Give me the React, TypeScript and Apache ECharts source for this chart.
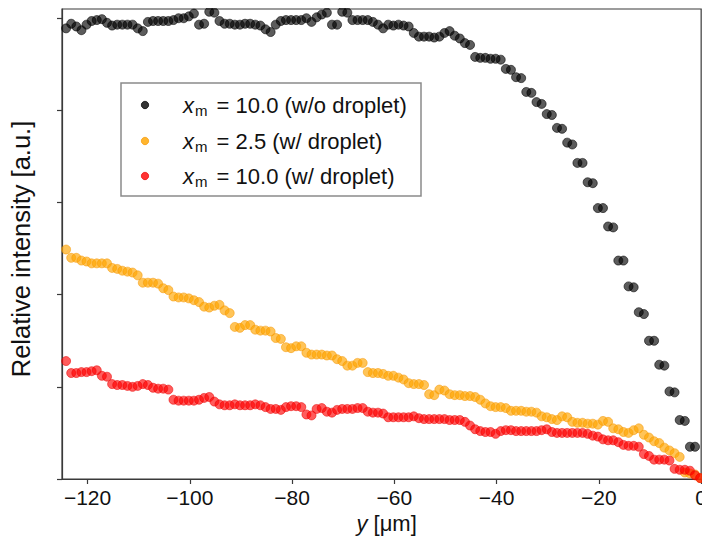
import React, { useEffect, useRef } from "react";
import * as echarts from "echarts";

// Sampling positions (μm): uniform grid, leftmost point at -124.2, step 1 μm
const X_START = -124.2;
const X_STEP = 1;

// x_m = 10.0 (w/o droplet) — 124 points from y = -124.2 to -1.2
const blackValues = [
  4.89, 4.94, 4.91, 4.87, 4.93, 4.97, 4.98, 4.99, 4.95, 4.92,
  4.93, 4.93, 4.93, 4.93, 4.89, 4.86, 4.96, 4.97, 4.97, 4.97,
  4.97, 4.98, 5.0, 5.0, 5.02, 5.05, 4.93, 4.94, 5.07, 5.06,
  4.97, 4.94, 4.94, 4.93, 4.93, 4.94, 4.94, 4.93, 4.92, 4.88,
  4.85, 4.93, 4.97, 4.98, 4.98, 4.98, 4.98, 5.0, 4.96, 5.01,
  5.04, 5.06, 4.93, 4.93, 5.07, 5.06, 4.98, 4.98, 4.98, 4.98,
  4.96, 4.93, 4.89, 4.93, 4.92, 4.93, 4.92, 4.91, 4.84, 4.8,
  4.8, 4.8, 4.79, 4.8, 4.84, 4.86, 4.81, 4.78, 4.73, 4.71,
  4.58, 4.57, 4.57, 4.56, 4.56, 4.55, 4.45, 4.44, 4.36, 4.35,
  4.2, 4.19, 4.09, 4.07, 3.96, 3.95, 3.81, 3.8, 3.65, 3.63,
  3.43, 3.43, 3.22, 3.21, 2.94, 2.94, 2.74, 2.73, 2.37, 2.37,
  2.09, 2.08, 1.81, 1.79, 1.5, 1.5, 1.24, 1.23, 0.95, 0.94,
  0.64, 0.63, 0.35, 0.35,
];

// x_m = 2.5 (w/ droplet) — 125 points from y = -124.2 to -0.2
const orangeValues = [
  2.49, 2.4, 2.4, 2.37, 2.36, 2.34, 2.34, 2.34, 2.34, 2.29,
  2.28, 2.26, 2.25, 2.24, 2.21, 2.13, 2.13, 2.13, 2.12, 2.07,
  2.05, 1.98, 1.97, 1.97, 1.96, 1.94, 1.92, 1.87, 1.86, 1.88,
  1.89, 1.83, 1.8, 1.65, 1.64, 1.67, 1.67, 1.62, 1.61, 1.61,
  1.6, 1.53, 1.52, 1.43, 1.42, 1.44, 1.44, 1.37, 1.35, 1.35,
  1.35, 1.34, 1.34, 1.3, 1.28, 1.23, 1.23, 1.26, 1.26, 1.16,
  1.15, 1.15, 1.14, 1.12, 1.12, 1.1, 1.08, 1.04, 1.03, 1.03,
  1.02, 0.92, 0.91, 0.97, 0.96, 0.92, 0.91, 0.91, 0.9, 0.9,
  0.89, 0.86, 0.82, 0.79, 0.78, 0.78, 0.77, 0.74, 0.74, 0.74,
  0.73, 0.73, 0.72, 0.68, 0.67, 0.65, 0.64, 0.68, 0.67, 0.62,
  0.61, 0.61, 0.6, 0.6, 0.59, 0.63, 0.62, 0.55, 0.54, 0.51,
  0.5, 0.53, 0.55, 0.48, 0.45, 0.41, 0.39, 0.34, 0.31, 0.28,
  0.24, 0.07, 0.06, 0.05, 0.01,
];

// x_m = 10.0 (w/ droplet) — 125 points from y = -124.2 to -0.2
const redValues = [
  1.28, 1.15, 1.15, 1.16, 1.16, 1.17, 1.18, 1.12, 1.11, 1.03,
  1.02, 1.02, 1.01, 1.0, 1.01, 1.03, 1.02, 0.99, 0.98, 0.98,
  0.97, 0.86, 0.85, 0.85, 0.85, 0.85, 0.86, 0.88, 0.89, 0.84,
  0.81, 0.8, 0.8, 0.81, 0.8, 0.8, 0.8, 0.81, 0.8, 0.78,
  0.76, 0.76, 0.75, 0.78, 0.79, 0.79, 0.78, 0.7, 0.69, 0.76,
  0.77, 0.73, 0.72, 0.75, 0.76, 0.76, 0.76, 0.77, 0.77, 0.73,
  0.72, 0.72, 0.71, 0.67, 0.67, 0.67, 0.67, 0.67, 0.68, 0.66,
  0.65, 0.65, 0.65, 0.65, 0.65, 0.64, 0.64, 0.64, 0.62, 0.58,
  0.54, 0.52, 0.51, 0.51, 0.49, 0.52, 0.53, 0.53, 0.52, 0.52,
  0.52, 0.52, 0.52, 0.53, 0.54, 0.51, 0.5, 0.5, 0.5, 0.5,
  0.5, 0.5, 0.49, 0.47, 0.46, 0.43, 0.42, 0.42, 0.4, 0.37,
  0.36, 0.36, 0.35, 0.27, 0.25, 0.21, 0.21, 0.21, 0.2, 0.11,
  0.1, 0.1, 0.09, 0.04, 0.01,
];

const xTickValues = [-120, -100, -80, -60, -40, -20, 0];
const yTickValues = [0, 1, 2, 3, 4, 5];

const seriesNames = [
  "x_m = 10.0 (w/o droplet)",
  "x_m = 2.5 (w/ droplet)",
  "x_m = 10.0 (w/ droplet)",
];
const legendTexts = [
  "{i|x}{s|m} = 10.0 (w/o droplet)",
  "{i|x}{s|m} = 2.5 (w/ droplet)",
  "{i|x}{s|m} = 10.0 (w/ droplet)",
];
const seriesColors = ["rgba(0,0,0,0.8)", "rgba(255,165,0,0.82)", "rgba(255,0,0,0.8)"];
const seriesBorders = ["rgba(0,0,0,0.9)", "rgba(245,150,0,0.85)", "rgba(235,0,0,0.85)"];

const FONT = "'Liberation Sans', Arial, Helvetica, sans-serif";

function toPairs(values: number[]) {
  return values.map((v, i) => [X_START + i * X_STEP, v]);
}

export default function App() {
  const ref = useRef<HTMLDivElement>(null);
  useEffect(() => {
    if (!ref.current) return;
    const chart = echarts.init(ref.current, undefined, { renderer: "svg" });
    const allValues = [blackValues, orangeValues, redValues];
    const legendRowsY = [105, 141, 176];
    chart.setOption({
      animation: false,
      backgroundColor: "#ffffff",
      grid: {
        left: 62,
        right: 4,
        top: 9,
        bottom: 65,
        show: true,
        borderColor: "#3a3a3a",
        borderWidth: 1.2,
        backgroundColor: "transparent",
      },
      xAxis: {
        type: "value",
        min: -125,
        max: 0,
        name: "{i|y} [μm]",
        nameLocation: "middle",
        nameGap: 33,
        nameTextStyle: {
          fontFamily: FONT,
          fontSize: 22,
          color: "#111",
          padding: [0, 0, 0, 10],
          rich: { i: { fontStyle: "italic", fontFamily: FONT, fontSize: 22, color: "#111" } },
        },
        axisLine: { show: true, onZero: false, lineStyle: { color: "#3a3a3a", width: 1.2 } },
        axisTick: {
          show: true,
          inside: false,
          length: 5,
          customValues: xTickValues,
          lineStyle: { color: "#3a3a3a", width: 1.2 },
        },
        axisLabel: {
          show: true,
          customValues: xTickValues,
          margin: 8,
          fontFamily: FONT,
          fontSize: 21,
          color: "#111",
          formatter: (v: number) => (v < 0 ? "\u2212" + Math.abs(v) : String(v)),
        },
        splitLine: { show: false },
      },
      yAxis: {
        type: "value",
        min: 0,
        max: 5.1,
        interval: 1,
        name: "Relative intensity [a.u.]",
        nameLocation: "middle",
        nameGap: 28,
        nameTextStyle: { fontFamily: FONT, fontSize: 25.5, color: "#111", padding: [0, 10, 0, 0] },
        axisLine: { show: true, onZero: false, lineStyle: { color: "#3a3a3a", width: 1.2 } },
        axisTick: {
          show: true,
          inside: false,
          length: 5,
          customValues: yTickValues,
          lineStyle: { color: "#3a3a3a", width: 1.2 },
        },
        axisLabel: { show: false },
        splitLine: { show: false },
      },
      series: allValues.map((vals, k) => ({
        type: "scatter",
        name: seriesNames[k],
        data: toPairs(vals),
        symbol: "circle",
        symbolSize: 9,
        clip: false,
        z: 2 + k,
        itemStyle: { color: seriesColors[k], borderColor: seriesBorders[k], borderWidth: 0.8 },
      })),
      graphic: [
        {
          type: "rect",
          z: 100,
          shape: { x: 121, y: 83, width: 300, height: 113 },
          style: { fill: "rgba(255,255,255,0.9)", stroke: "#8a8a8a", lineWidth: 1.5 },
        },
        ...legendRowsY.map((yy, k) => ({
          type: "circle",
          z: 101,
          shape: { cx: 145, cy: yy, r: 3.7 },
          style: { fill: seriesColors[k], stroke: seriesBorders[k], lineWidth: 0.8 },
        })),
        ...legendRowsY.map((yy, k) => ({
          type: "text",
          z: 101,
          x: 183,
          y: yy,
          style: {
            text: legendTexts[k],
            fontFamily: FONT,
            fontSize: 22,
            lineHeight: 26,
            fill: "#111",
            verticalAlign: "middle",
            align: "left",
            rich: {
              i: { fontStyle: "italic", fontFamily: FONT, fontSize: 22, lineHeight: 26, fill: "#111" },
              s: {
                fontFamily: FONT,
                fontSize: 15,
                lineHeight: 15,
                padding: [11, 3, 0, 1],
                verticalAlign: "bottom",
                fill: "#111",
              },
            },
          },
        })),
      ],
    });
    return () => chart.dispose();
  }, []);
  return <div ref={ref} style={{ width: 710, height: 544, margin: -8 }} />;
}
